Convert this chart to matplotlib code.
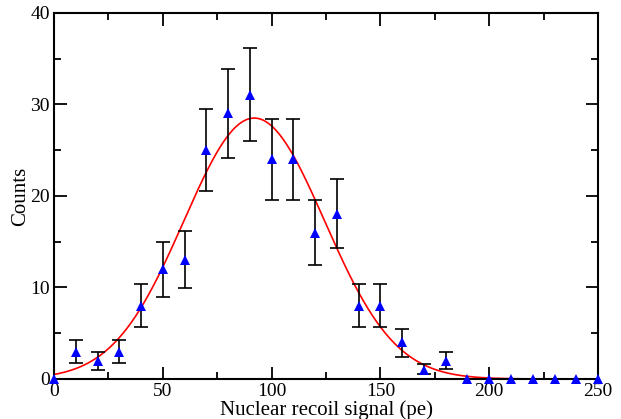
import numpy as np
import matplotlib
matplotlib.use("Agg")
import matplotlib.pyplot as plt
from matplotlib.ticker import MultipleLocator

# Data
signal_pe = [0, 10, 20, 30, 40, 50, 60, 70, 80, 90, 100, 110, 120, 130, 140, 150,
             160, 170, 180, 190, 200, 210, 220, 230, 240, 250]
counts = [0, 3, 2, 3, 8, 12, 13, 25, 29, 31, 24, 24, 16, 18, 8, 8,
          4, 1, 2, 0, 0, 0, 0, 0, 0, 0]
err_low = [0, 1.3, 1.0, 1.3, 2.3, 3.0, 3.1, 4.5, 4.9, 5.0, 4.4, 4.4, 3.5, 3.7, 2.3, 2.3,
           1.6, 0.5, 0.9, 0, 0, 0, 0, 0, 0, 0]
err_high = [0, 1.3, 1.0, 1.3, 2.4, 3.0, 3.2, 4.5, 4.9, 5.1, 4.4, 4.4, 3.5, 3.8, 2.4, 2.4,
            1.5, 0.6, 1.0, 0, 0, 0, 0, 0, 0, 0]
# Gaussian fit parameters (amplitude, mean, sigma)
fit_amp, fit_mean, fit_sigma = 28.5, 92.0, 32.3

plt.rcParams['font.family'] = ['Liberation Serif', 'DejaVu Serif']

fig = plt.figure(figsize=(6.21, 4.19), dpi=100)
ax = fig.add_axes([0.087, 0.0955, 0.876, 0.874])

xf = np.linspace(0, 250, 500)
yf = fit_amp * np.exp(-(xf - fit_mean) ** 2 / (2 * fit_sigma ** 2))
ax.plot(xf, yf, color='red', lw=1.2, zorder=2)

x = np.array(signal_pe)
y = np.array(counts)
el = np.array(err_low)
eh = np.array(err_high)
has_err = (el > 0)
ax.errorbar(x[has_err], y[has_err], yerr=[el[has_err], eh[has_err]], fmt='none',
            ecolor='black', elinewidth=1.2, capsize=5, capthick=1.2, zorder=3)
ax.plot(x, y, linestyle='none', marker='^', color='blue', markersize=7.5,
        markeredgewidth=0, zorder=4, clip_on=False)

ax.set_xlim(0, 250)
ax.set_ylim(0, 40)
ax.xaxis.set_major_locator(MultipleLocator(50))
ax.xaxis.set_minor_locator(MultipleLocator(25))
ax.yaxis.set_major_locator(MultipleLocator(10))
ax.yaxis.set_minor_locator(MultipleLocator(5))
ax.tick_params(which='both', direction='in', top=True, right=True, width=1.3,
               labelsize=14, pad=3)
ax.tick_params(which='major', length=9)
ax.tick_params(which='minor', length=5)
for s in ax.spines.values():
    s.set_linewidth(1.5)

ax.set_xlabel('Nuclear recoil signal (pe)', fontsize=15, labelpad=0)
ax.set_ylabel('Counts', fontsize=15, labelpad=0)

fig.savefig('out.png', dpi=100)
